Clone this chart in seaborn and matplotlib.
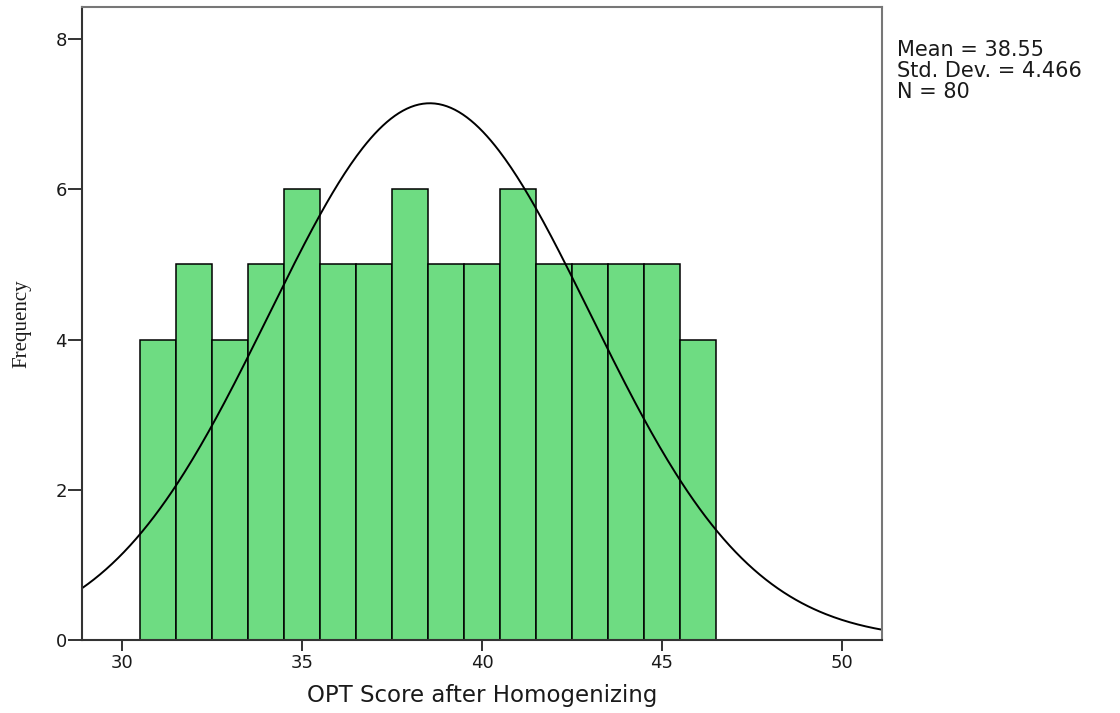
import numpy as np
import pandas as pd
import seaborn as sns
import matplotlib
matplotlib.use("Agg")
import matplotlib.pyplot as plt

# frequency per score
scores = [31, 32, 33, 34, 35, 36, 37, 38, 39, 40, 41, 42, 43, 44, 45, 46]
counts = [4, 5, 4, 5, 6, 5, 5, 6, 5, 5, 6, 5, 5, 5, 5, 4]
mean_val = 38.55
sd_val = 4.466
n_val = 80

x_ticks = [30, 35, 40, 45, 50]
y_ticks = [0, 2, 4, 6, 8]

df = pd.DataFrame({"score": np.repeat(scores, counts)})

sns.set_theme(style="white")
plt.rcParams["font.family"] = ["DejaVu Sans"]

fig = plt.figure(figsize=(11.2, 7.13), dpi=100)
ax = fig.add_axes([0.0732, 0.1024, 0.7143, 0.888])

sns.histplot(data=df, x="score", binwidth=1, binrange=(30.5, 46.5),
             color="#6edc82", edgecolor="black", linewidth=1.1, alpha=1, ax=ax)

# normal curve from the reported mean / sd, scaled to counts
xlim = (28.89, 51.11)
xs = np.linspace(xlim[0], xlim[1], 400)
ys = n_val * 1.0 / (sd_val * np.sqrt(2 * np.pi)) * np.exp(-0.5 * ((xs - mean_val) / sd_val) ** 2)
sns.lineplot(x=xs, y=ys, color="black", linewidth=1.4, ax=ax)

ax.set_xlim(*xlim)
ax.set_ylim(0, 8.43)
ax.set_xticks(x_ticks)
ax.set_yticks(y_ticks)
ax.tick_params(axis="both", direction="out", width=1.4, color="#333333",
               labelsize=13, labelcolor="#1a1a1a", bottom=True, left=True)
ax.tick_params(axis="x", length=8, pad=2)
ax.tick_params(axis="y", length=10, pad=1)

for side in ["left", "bottom"]:
    ax.spines[side].set_color("#333333")
    ax.spines[side].set_linewidth(1.5)
for side in ["top", "right"]:
    ax.spines[side].set_color("#777777")
    ax.spines[side].set_linewidth(1.5)

ax.set_xlabel("OPT Score after Homogenizing", fontsize=16.5, color="#1a1a1a", labelpad=9)
ax.set_ylabel("Frequency", fontsize=15, family=["Liberation Serif", "DejaVu Serif"],
              color="#1a1a1a", labelpad=17)

fig.text(0.801, 0.944,
         "Mean = %.2f\nStd. Dev. = %.3f\nN = %d" % (mean_val, sd_val, n_val),
         fontsize=15, va="top", ha="left", color="#1a1a1a", linespacing=1.08)

fig.savefig("out.png", dpi=100)
